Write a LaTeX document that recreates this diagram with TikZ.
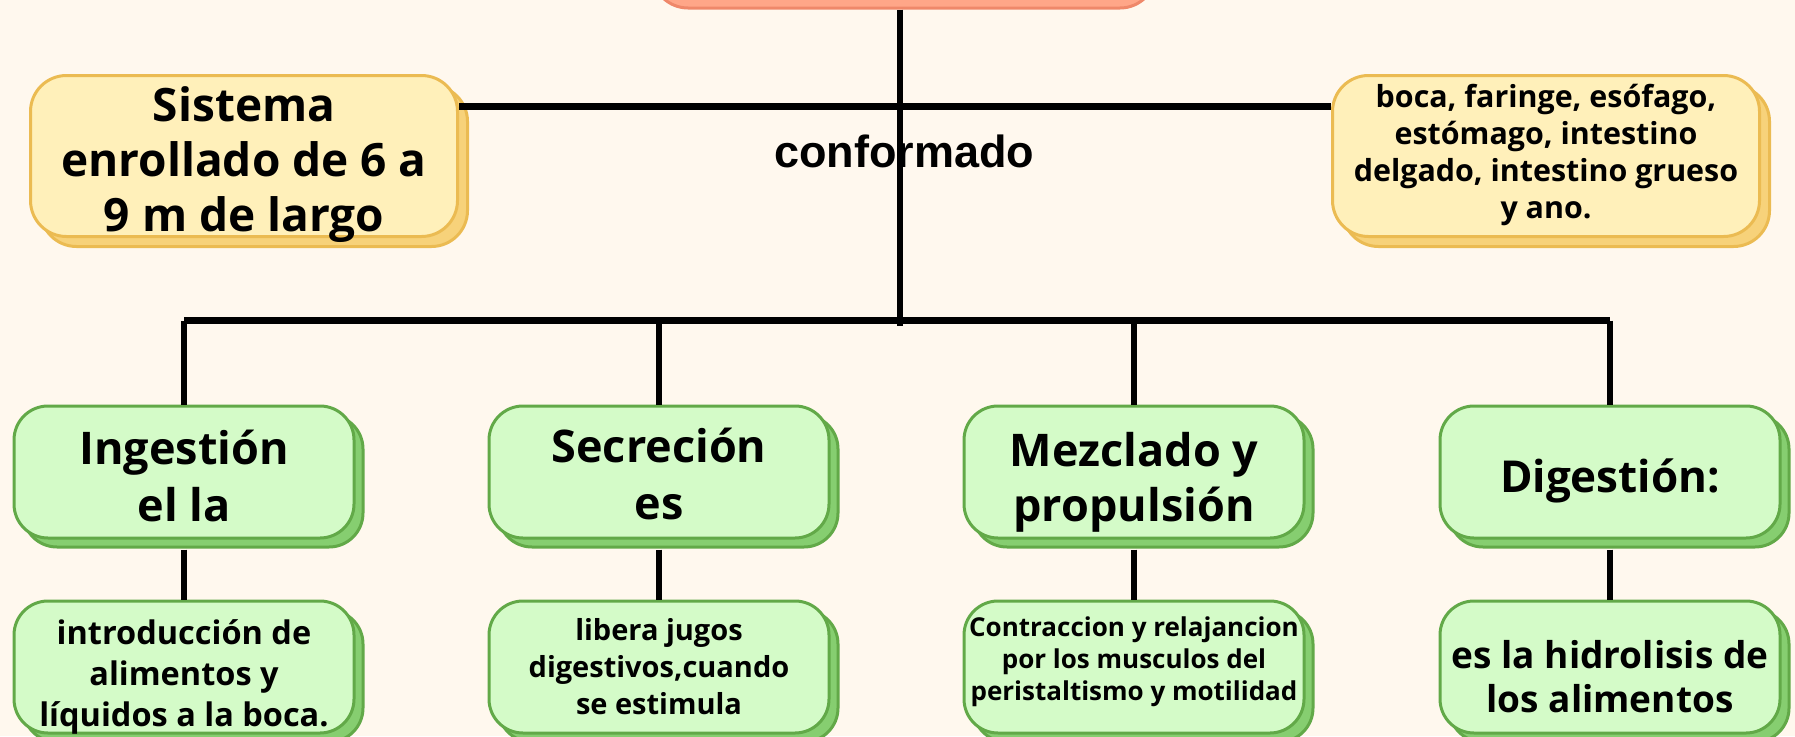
\documentclass[tikz,border=0pt]{standalone}
\usepackage{fontspec}
\setmainfont{Open Sans}
\newfontfamily\rotulo{Liberation Sans}
\usetikzlibrary{shadows, positioning}
\definecolor{fondo}{HTML}{FFF8EE}
\definecolor{naranja}{HTML}{FFA688}
\definecolor{naranjaborde}{HTML}{EF886A}
\definecolor{amarillo}{HTML}{FFF0BA}
\definecolor{amarilloborde}{HTML}{EBBB52}
\definecolor{amarillosombra}{HTML}{F7D27A}
\definecolor{verde}{HTML}{D4FBC8}
\definecolor{verdeborde}{HTML}{62A948}
\definecolor{verdesombra}{HTML}{86CE70}
\tikzstyle{raizbox} = [rectangle, rounded corners=36pt, minimum width=504pt, minimum height=140pt, draw=naranjaborde, fill=naranja, line width=3pt]
\tikzstyle{nota} = [rectangle, rounded corners=36pt, minimum width=427pt, minimum height=161pt, draw=amarilloborde, fill=amarillo, line width=3pt, copy shadow={shadow xshift=10pt, shadow yshift=-10pt, fill=amarillosombra, draw=amarilloborde, line width=3pt}]
\tikzstyle{accion} = [rectangle, rounded corners=34pt, minimum width=340pt, minimum height=132pt, draw=verdeborde, fill=verde, line width=3pt, copy shadow={shadow xshift=9pt, shadow yshift=-9pt, fill=verdesombra, draw=verdeborde, line width=3pt}]
\tikzstyle{texto} = [align=center, inner sep=0pt]
\tikzstyle{enlace} = [line width=6.5pt]

\begin{document}
\begin{tikzpicture}[x=1pt, y=-1pt, node distance=195pt]
\fill [fondo] (0,0) rectangle (1795,736);
\useasboundingbox (0,0) rectangle (1795,736);

\node (raiz) [raizbox] at (904,-62) {};
\node (sistema) [nota, label={[texto, yshift=-9pt, font=\bfseries\fontsize{46}{55}\selectfont]center:{Sistema\\enrollado de 6 a\\9 m de largo}}] at (244,156) {};
\node (organos) [nota, label={[texto, yshift=1pt, font=\bfseries\fontsize{30.4}{37}\selectfont]center:{boca, faringe, esófago,\\estómago, intestino\\delgado, intestino grueso\\y ano.}}] at (1546,156) {};
\node (conf) at (904,151) {\rotulo\bfseries\fontsize{45}{50}\selectfont conformado};

\node (ing) [accion, label={[texto, yshift=-4pt, font=\bfseries\fontsize{45}{57}\selectfont]center:{Ingestión\\el la}}] at (184,472) {};
\node (sec) [accion, label={[texto, yshift=-2pt, font=\bfseries\fontsize{45}{57}\selectfont]center:{Secreción\\es}}] at (659,472) {};
\node (mez) [accion, label={[texto, yshift=-10pt, font=\bfseries\fontsize{45}{55}\selectfont]center:{Mezclado y\\propulsión}}] at (1134,472) {};
\node (dig) [accion, label={[texto, yshift=-9pt, font=\bfseries\fontsize{44}{55}\selectfont]center:{Digestión:}}] at (1610,472) {};

\node (ingdet) [accion, below of=ing, label={[texto, yshift=-10pt, font=\bfseries\fontsize{32.5}{41}\selectfont]center:{introducción de\\alimentos y\\líquidos a la boca.}}] {};
\node (secdet) [accion, below of=sec, label={[texto, font=\bfseries\fontsize{29}{37}\selectfont]center:{libera jugos\\digestivos,cuando\\se estimula}}] {};
\node (mezdet) [accion, below of=mez, label={[texto, yshift=5pt, font=\bfseries\fontsize{26}{32}\selectfont]center:{Contraccion y relajancion\\por los musculos del\\peristaltismo y motilidad}}] {};
\node (digdet) [accion, below of=dig, label={[texto, yshift=-10pt, font=\bfseries\fontsize{37}{44}\selectfont]center:{es la hidrolisis de\\los alimentos}}] {};

\coordinate (cruce) at (900,106.5);
\coordinate (eje) at (900,320.5);

\draw [enlace] (raiz.south -| eje) -- ([yshift=-5pt]eje);
\draw [enlace] (sistema.east |- cruce) -- (organos.west |- cruce);
\draw [enlace] (ing.north |- eje) -- (dig.north |- eje);
\foreach \n in {ing,sec,mez,dig}
  \draw [enlace] (\n.north |- eje) -- (\n.north);
\foreach \a/\b in {ing/ingdet, sec/secdet, mez/mezdet, dig/digdet}
  \draw [enlace, shorten <=10pt] (\a.south) -- (\b.north);

\end{tikzpicture}
\end{document}
